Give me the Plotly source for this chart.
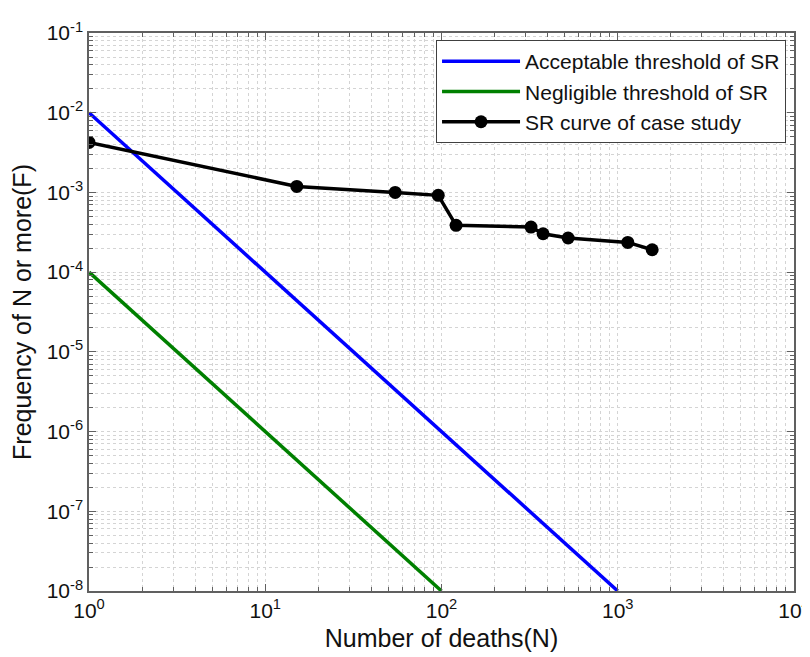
import plotly.graph_objects as go

# ---- data ----
acc_N = [1, 1000]
acc_F = [1e-2, 1e-8]

neg_N = [1, 100]
neg_F = [1e-4, 1e-8]

sr_N = [1, 15.1, 54.6, 95.8, 121, 322, 377, 523, 1140, 1568]
sr_F = [4.24e-3, 1.19e-3, 1.0e-3, 9.2e-4, 3.87e-4, 3.68e-4, 3.03e-4, 2.68e-4, 2.36e-4, 1.91e-4]

x_tickvals = [1, 10, 100, 1000, 10000]
x_ticktext = ["10<sup>0</sup>", "10<sup>1</sup>", "10<sup>2</sup>", "10<sup>3</sup>", "10<sup>4</sup>"]
y_tickvals = [1e-1, 1e-2, 1e-3, 1e-4, 1e-5, 1e-6, 1e-7, 1e-8]
y_ticktext = ["10<sup>-1</sup>", "10<sup>-2</sup>", "10<sup>-3</sup>", "10<sup>-4</sup>",
              "10<sup>-5</sup>", "10<sup>-6</sup>", "10<sup>-7</sup>", "10<sup>-8</sup>"]

x_minor = [m * 10 ** d for d in range(0, 4) for m in range(2, 10)]
y_minor = [m * 10.0 ** d for d in range(-8, -1) for m in range(2, 10)]

FONT = "Liberation Sans, Arial, sans-serif"

fig = go.Figure()
fig.add_trace(go.Scatter(x=acc_N, y=acc_F, mode="lines", name="Acceptable threshold of SR",
                         line=dict(color="#0000FF", width=3.5)))
fig.add_trace(go.Scatter(x=neg_N, y=neg_F, mode="lines", name="Negligible threshold of SR",
                         line=dict(color="#008000", width=3.5)))
fig.add_trace(go.Scatter(x=sr_N, y=sr_F, mode="lines+markers", name="SR curve of case study",
                         line=dict(color="#000000", width=3.5),
                         marker=dict(color="#000000", size=13)))

grid_c = "#d4d4d4"
axis_c = "#606060"

common = dict(
    type="log",
    tickmode="array",
    automargin=False,
    showline=True, linecolor=axis_c, linewidth=1.5,
    mirror="allticks",
    ticks="inside", ticklen=7, tickcolor=axis_c, tickwidth=1,
    showgrid=True, gridcolor=grid_c, griddash="dot", gridwidth=1,
    zeroline=False,
    tickfont=dict(family=FONT, size=21, color="#111111"),
)

fig.update_xaxes(
    **common,
    range=[0, 4],
    tickvals=x_tickvals, ticktext=x_ticktext,
    minor=dict(tickmode="array", tickvals=x_minor, ticks="inside", ticklen=4,
               tickcolor=axis_c, showgrid=True, gridcolor=grid_c, griddash="dot", gridwidth=1),
    title=dict(text="Number of deaths(N)", font=dict(family=FONT, size=25, color="#111111"), standoff=9),
)
fig.update_yaxes(
    **common,
    range=[-8, -1],
    tickvals=y_tickvals, ticktext=y_ticktext,
    minor=dict(tickmode="array", tickvals=y_minor, ticks="inside", ticklen=4,
               tickcolor=axis_c, showgrid=True, gridcolor=grid_c, griddash="dot", gridwidth=1),
    title=dict(text="Frequency of N or more(F)", font=dict(family=FONT, size=25, color="#111111"), standoff=8),
)

fig.update_layout(
    width=802, height=649,
    margin=dict(l=81, r=16, t=25, b=66),
    paper_bgcolor="white", plot_bgcolor="white",
    showlegend=True,
    legend=dict(
        x=0.9887, y=0.9875, xanchor="right", yanchor="top",
        bgcolor="white", bordercolor="#404040", borderwidth=1,
        font=dict(family=FONT, size=21, color="#111111"),
        itemwidth=78, tracegroupgap=0,
    ),
)

fig.write_html("out.html")
